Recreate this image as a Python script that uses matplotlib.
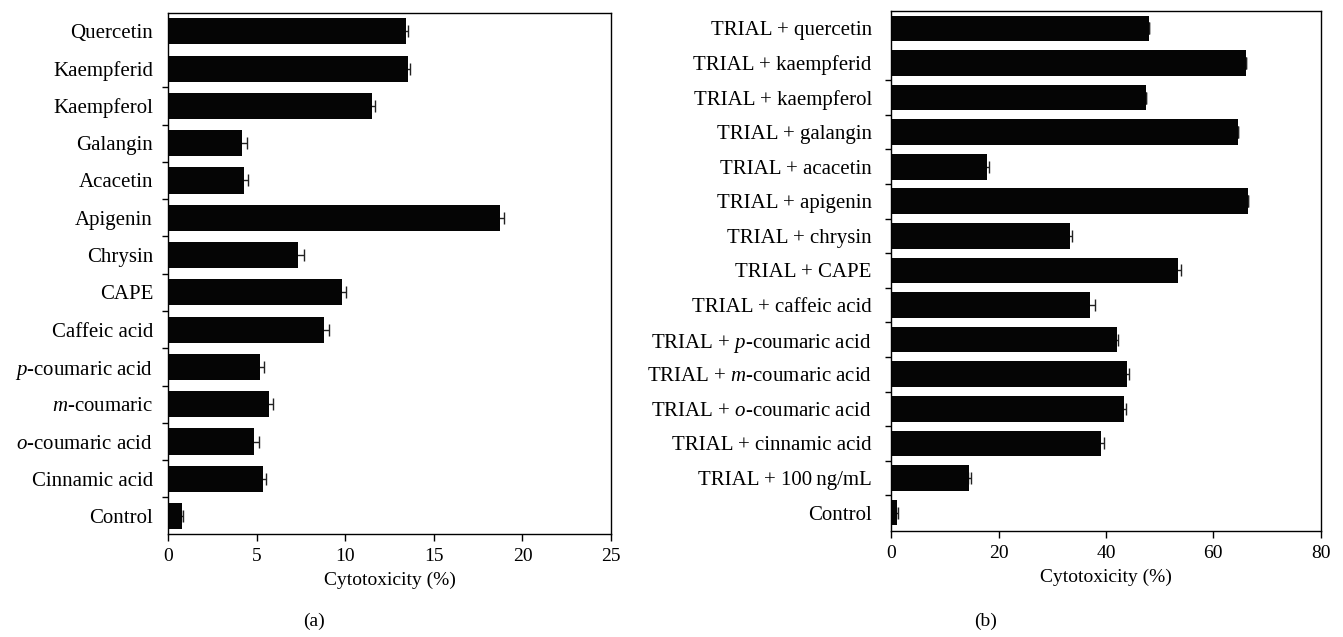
import matplotlib
matplotlib.use("Agg")
import matplotlib.pyplot as plt
import numpy as np
from matplotlib.ticker import FixedLocator, NullFormatter

plt.rcParams["font.family"] = ["Liberation Serif", "DejaVu Serif"]
plt.rcParams["mathtext.fontset"] = "custom"
plt.rcParams["mathtext.rm"] = "Liberation Serif"
plt.rcParams["mathtext.it"] = "Liberation Serif:italic"

# Panel (a): compounds alone (top to bottom)
labels_a = ["Quercetin", "Kaempferid", "Kaempferol", "Galangin", "Acacetin",
            "Apigenin", "Chrysin", "CAPE", "Caffeic acid",
            r"$\it{p}$-coumaric acid", r"$\it{m}$-coumaric",
            r"$\it{o}$-coumaric acid", "Cinnamic acid", "Control"]
values_a = [13.4, 13.55, 11.5, 4.17, 4.28, 18.75, 7.35, 9.8, 8.8,
            5.17, 5.67, 4.84, 5.34, 0.77]
errors_a = [0.15, 0.1, 0.2, 0.3, 0.24, 0.18, 0.3, 0.25, 0.25,
            0.25, 0.25, 0.27, 0.2, 0.05]

# Panel (b): compounds combined with TRAIL (top to bottom)
labels_b = ["TRIAL + quercetin", "TRIAL + kaempferid", "TRIAL + kaempferol",
            "TRIAL + galangin", "TRIAL + acacetin", "TRIAL + apigenin",
            "TRIAL + chrysin", "TRIAL + CAPE", "TRIAL + caffeic acid",
            r"TRIAL + $\it{p}$-coumaric acid", r"TRIAL + $\it{m}$-coumaric acid",
            r"TRIAL + $\it{o}$-coumaric acid", "TRIAL + cinnamic acid",
            "TRIAL + 100\u2009ng/mL", "Control"]
values_b = [48.1, 66.0, 47.5, 64.5, 17.8, 66.4, 33.3, 53.5, 37.0,
            42.0, 43.9, 43.3, 39.1, 14.5, 1.0]
errors_b = [0.0, 0.0, 0.0, 0.0, 0.4, 0.0, 0.3, 0.45, 1.0,
            0.3, 0.3, 0.5, 0.6, 0.3, 0.2]

xticks_a = [0, 5, 10, 15, 20, 25]
xticks_b = [0, 20, 40, 60, 80]

W, H = 1343, 637
fig = plt.figure(figsize=(W / 100, H / 100), dpi=100)


def px_axes(x0, x1, ytop, ybot):
    return fig.add_axes([x0 / W, (H - ybot) / H, (x1 - x0) / W, (ybot - ytop) / H])


def draw_panel(ax, labels, values, errors, xticks, ylim, bar_h, label_pad, tag, tag_x):
    n = len(labels)
    pos = np.arange(n)[::-1]
    # error bars sit under the bars so only the outer half shows
    ax.errorbar(values, pos, xerr=errors, fmt="none", ecolor="#222222",
                elinewidth=1.0, capsize=4.5, capthick=1.0, zorder=1)
    ax.barh(pos, values, height=bar_h, color="#050505", zorder=2)
    ax.set_xlim(xticks[0], xticks[-1])
    ax.set_ylim(*ylim)
    ax.set_xticks(xticks)
    ax.set_xticklabels([str(t) for t in xticks], fontsize=14)
    ax.set_yticks(pos)
    ax.set_yticklabels(labels, fontsize=15)
    # category separators as small outward ticks (none under the top bar)
    seps = [k + 0.5 for k in range(n - 2)]
    ax.yaxis.set_minor_locator(FixedLocator(seps))
    ax.yaxis.set_minor_formatter(NullFormatter())
    ax.tick_params(axis="y", which="major", length=0, pad=label_pad)
    ax.tick_params(axis="y", which="minor", length=4, width=1.0, direction="out")
    ax.tick_params(axis="x", length=5, width=1.0, direction="out", pad=5)
    for s in ax.spines.values():
        s.set_linewidth(1.0)
    ax.set_xlabel("Cytotoxicity (%)", fontsize=14, labelpad=5)
    fig.text(tag_x / W, 1 - 621 / H, tag, fontsize=14, ha="center", va="center")


ax_a = px_axes(168.3, 611, 13, 534)
draw_panel(ax_a, labels_a, values_a, errors_a, xticks_a, (-0.48, 13.49), 0.7, 11,
           "(a)", 314)

ax_b = px_axes(891.3, 1320.7, 10.7, 531.3)
draw_panel(ax_b, labels_b, values_b, errors_b, xticks_b, (-0.54, 14.51), 0.74, 14,
           "(b)", 986)

fig.savefig("out.png", dpi=100)
